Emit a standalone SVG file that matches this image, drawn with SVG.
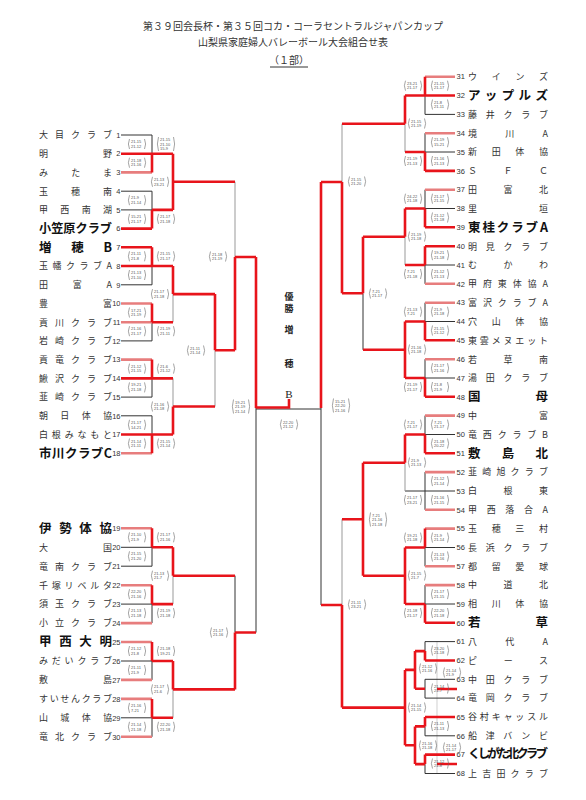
<svg xmlns="http://www.w3.org/2000/svg" xmlns:xlink="http://www.w3.org/1999/xlink" width="586" height="800" viewBox="0 0 586 800">
<style>
.k{stroke:#333;stroke-width:1;fill:none}
.g{stroke:#999;stroke-width:1;fill:none}
.t{stroke:#bbb;stroke-width:0.7;fill:none}
.r{stroke:#e8141b;stroke-width:2.6;fill:none}
.p{stroke:#e77d7d;stroke-width:2.6;fill:none}
.hd{font-family:"Noto Sans CJK JP",sans-serif;font-size:10px;fill:#333}
.nm{font-family:"Noto Sans CJK JP",sans-serif;font-size:9px;fill:#333}
.bd{font-family:"Noto Sans CJK JP",sans-serif;font-size:12.5px;font-weight:bold;fill:#111}
.no{font-family:"Liberation Sans",sans-serif;font-size:7.5px;fill:#333}
.ch{font-family:"Noto Sans CJK JP",sans-serif;font-size:9px;font-weight:bold;fill:#222;text-anchor:middle}
.sc text{font-family:"Liberation Sans",sans-serif;font-size:4px;fill:#555}
.br{stroke:#666;stroke-width:0.6;fill:none}
</style>
<defs>
<path id="b2" class="br" d="M2.5,0.5Q0.3,5.5 2.5,10.5M17.5,0.5Q19.7,5.5 17.5,10.5"/>
<path id="b3" class="br" d="M2.5,0.5Q0.3,7.5 2.5,14.5M17.5,0.5Q19.7,7.5 17.5,14.5"/>
</defs>

<g id="title">
<text class="hd" x="293" y="30" text-anchor="middle">第３９回会長杯・第３５回コカ・コーラセントラルジャパンカップ</text>
<text class="hd" x="293" y="46" text-anchor="middle">山梨県家庭婦人バレーボール大会組合せ表</text>
<text class="hd" x="289" y="64" text-anchor="middle">（１部）</text>
<path class="k" d="M270 67H308" stroke-width="0.8"/>
</g>

<g id="connectors">
<path class="t" d="M437 641V774"/>
<path class="k" d="M121 135H152M121 191.2H152M121 209.9H152M121 284.8H152M121 340.9H152M121 397.1H152M121 415.8H152M121 547.3H152M121 566.2H152M121 604.1H152M121 661H152M121 717.8H152
M152 135V153.7M152 191.2V209.9M152 266V284.8M152 322.2V340.9M152 378.4V397.1M152 415.8V434.5M152 547.3V566.2M152 604.1V623.1M152 661V679.9M152 717.8V736.8
M235 575.7V632.5M256 408V632.5M256 409H321M321 408V605
M425 114.4H455M425 152H455M425 208.5H455M425 265H455M425 321.5H455M425 378H455M425 434.5H455M425 491H455M425 547.5H455M425 604H455M425 641.6H455M425 679.3H455M425 698.1H455M425 735.8H455M425 773.5H455
M405 491H425
M425 95.5V114.4M425 133.2V152M425 189.7V208.5M425 265V283.8M425 302.7V321.5M425 359.2V378M425 415.6V434.5M425 472.1V509.8M425 547.5V566.3M425 585.1V604M425 641.6V651.1M425 679.3V698.1M425 726.4V735.8M425 764.1V773.5
M363 293.3V349.8"/>
<path class="g" d="M173 294.1V322.2M173 378.4V406.5M173 575.7V604.1M173 689.4V717.8M215 350.3V406.5M235 181.8V257M405 123.8V152M405 236.8V265M405 462.8V491M342 123.8V182M342 519.3V605"/>
<path class="p" d="M121 172.4H152M121 303.5H152M121 322.2H152M121 359.6H152M121 453.2H152M121 528.3H152M121 585.2H152M121 623.1H152M121 642H152M121 679.9H152M121 698.9H152M121 736.8H152
M425 76.7H455M425 133.2H455M425 189.7H455M425 283.8H455M425 302.7H455M425 359.2H455M425 415.6H455M425 472.1H455M425 509.8H455M425 528.6H455M425 566.3H455M425 585.1H455"/>
<path class="r" d="M121 153.7H173M121 228.6H152M121 247.3H152M121 266H173M121 378.4H173M121 434.5H173
M152 209.9H173M152 322.2H173M152 547.3H173M152 604.1H173M152 661H173M152 717.8H173
M152 153.7V172.4M152 209.9V228.6M152 247.3V266M152 303.5V322.2M152 359.6V378.4M152 434.5V453.2M152 528.3V547.3M152 585.2V604.1M152 642V661M152 698.9V717.8
M173 153.7V209.9M173 266V294.1M173 406.5V434.5M173 547.3V575.7M173 661V689.4
M173 181.8H235M173 294.1H215M173 406.5H215M215 294.1V350.3M215 350.3H235M235 257V350.3M235 257H256M256 257V408
M173 575.7H235M173 689.4H235M235 632.5V689.4M235 632.5H256
M256 407.5H289V399
M405 95.5H455M425 170.9H455M425 227.3H455M425 246.2H455M425 340.3H455M425 396.8H455M425 453.3H455M425 622.8H455M425 660.5H455M425 717H455M425 754.6H455
M405 152H425M405 208.5H425M405 265H425M405 321.5H425M405 378H425M405 434.5H425M405 547.5H425M405 604H425
M425 76.7V95.5M425 152V170.9M425 208.5V227.3M425 246.2V265M425 321.5V340.3M425 378V396.8M425 434.5V453.3M425 528.6V547.5M425 604V622.8M425 651.1V660.5M425 717V726.4M425 754.6V764.1
M405 95.5V123.8M405 208.5V236.8M405 321.5V378M405 434.5V462.8M405 547.5V604M405 669.9V745.2
M405 123.8H342M405 236.8H363M405 349.8H363M363 236.8V293.3M363 293.3H342M342 182V293.3M342 182H321M321 182V408
M405 462.8H363M405 575.8H363M363 462.8V575.8M363 519.3H342
M425 651.1H415M425 688.7H415M415 651.1V688.7M415 669.9H405M425 726.4H415M425 764.1H415M415 726.4V764.1M415 745.2H405M405 707.6H342M342 605V707.6M342 605H321
M437 689H457M437 764H457"/>
</g>

<g id="champion">
<text class="ch" x="289" y="300">優</text>
<text class="ch" x="289" y="311.5">勝</text>
<text class="ch" x="289" y="333">増</text>
<text class="ch" x="289" y="367">穂</text>
<text x="289" y="397.5" text-anchor="middle" font-family="Liberation Serif,serif" font-size="11" fill="#222">B</text>
</g>

<g id="teams-left">
<g id="t1"><text class="nm" x="39" y="138.3" textLength="73" lengthAdjust="spacing">大目クラブ</text><text class="no" x="120.5" y="137.7" text-anchor="end">1</text></g>
<g id="t2"><text class="nm" x="39" y="157" textLength="73" lengthAdjust="spacing">明野</text><text class="no" x="120.5" y="156.4" text-anchor="end">2</text></g>
<g id="t3"><text class="nm" x="39" y="175.7" textLength="73" lengthAdjust="spacing">みたま</text><text class="no" x="120.5" y="175.1" text-anchor="end">3</text></g>
<g id="t4"><text class="nm" x="39" y="194.5" textLength="73" lengthAdjust="spacing">玉穂南</text><text class="no" x="120.5" y="193.9" text-anchor="end">4</text></g>
<g id="t5"><text class="nm" x="39" y="213.2" textLength="73" lengthAdjust="spacing">甲西南湖</text><text class="no" x="120.5" y="212.6" text-anchor="end">5</text></g>
<g id="t6"><text class="bd" x="39" y="233" font-size="12" textLength="73" lengthAdjust="spacingAndGlyphs">小笠原クラブ</text><text class="no" x="120.5" y="231.3" text-anchor="end">6</text></g>
<g id="t7"><text class="bd" x="39" y="251.7" textLength="73" lengthAdjust="spacing">増穂B</text><text class="no" x="120.5" y="250" text-anchor="end">7</text></g>
<g id="t8"><text class="nm" x="39" y="269.3" textLength="73" lengthAdjust="spacing">玉幡クラブA</text><text class="no" x="120.5" y="268.7" text-anchor="end">8</text></g>
<g id="t9"><text class="nm" x="39" y="288.1" textLength="73" lengthAdjust="spacing">田富A</text><text class="no" x="120.5" y="287.5" text-anchor="end">9</text></g>
<g id="t10"><text class="nm" x="39" y="306.8" textLength="73" lengthAdjust="spacing">豊富</text><text class="no" x="120.5" y="306.2" text-anchor="end">10</text></g>
<g id="t11"><text class="nm" x="39" y="325.5" textLength="73" lengthAdjust="spacing">貢川クラブ</text><text class="no" x="120.5" y="324.9" text-anchor="end">11</text></g>
<g id="t12"><text class="nm" x="39" y="344.2" textLength="73" lengthAdjust="spacing">岩崎クラブ</text><text class="no" x="120.5" y="343.6" text-anchor="end">12</text></g>
<g id="t13"><text class="nm" x="39" y="362.9" textLength="73" lengthAdjust="spacing">貢竜クラブ</text><text class="no" x="120.5" y="362.3" text-anchor="end">13</text></g>
<g id="t14"><text class="nm" x="39" y="381.7" textLength="73" lengthAdjust="spacing">鰍沢クラブ</text><text class="no" x="120.5" y="381.1" text-anchor="end">14</text></g>
<g id="t15"><text class="nm" x="39" y="400.4" textLength="73" lengthAdjust="spacing">韮崎クラブ</text><text class="no" x="120.5" y="399.8" text-anchor="end">15</text></g>
<g id="t16"><text class="nm" x="39" y="419.1" textLength="73" lengthAdjust="spacing">朝日体協</text><text class="no" x="120.5" y="418.5" text-anchor="end">16</text></g>
<g id="t17"><text class="nm" x="39" y="437.8" textLength="73" lengthAdjust="spacing">白根みなもと</text><text class="no" x="120.5" y="437.2" text-anchor="end">17</text></g>
<g id="t18"><text class="bd" x="39" y="457.6" textLength="73" lengthAdjust="spacing">市川クラブC</text><text class="no" x="120.5" y="455.9" text-anchor="end">18</text></g>
<g id="t19"><text class="bd" x="39" y="532.7" textLength="73" lengthAdjust="spacing">伊勢体協</text><text class="no" x="120.5" y="531" text-anchor="end">19</text></g>
<g id="t20"><text class="nm" x="39" y="550.6" textLength="73" lengthAdjust="spacing">大国</text><text class="no" x="120.5" y="550" text-anchor="end">20</text></g>
<g id="t21"><text class="nm" x="39" y="569.5" textLength="73" lengthAdjust="spacing">竜南クラブ</text><text class="no" x="120.5" y="568.9" text-anchor="end">21</text></g>
<g id="t22"><text class="nm" x="39" y="588.5" textLength="73" lengthAdjust="spacing">千塚リベルタ</text><text class="no" x="120.5" y="587.9" text-anchor="end">22</text></g>
<g id="t23"><text class="nm" x="39" y="607.4" textLength="73" lengthAdjust="spacing">須玉クラブ</text><text class="no" x="120.5" y="606.8" text-anchor="end">23</text></g>
<g id="t24"><text class="nm" x="39" y="626.4" textLength="73" lengthAdjust="spacing">小立クラブ</text><text class="no" x="120.5" y="625.8" text-anchor="end">24</text></g>
<g id="t25"><text class="bd" x="39" y="646.4" textLength="73" lengthAdjust="spacing">甲西大明</text><text class="no" x="120.5" y="644.7" text-anchor="end">25</text></g>
<g id="t26"><text class="nm" x="39" y="664.3" textLength="73" lengthAdjust="spacing">みだいクラブ</text><text class="no" x="120.5" y="663.7" text-anchor="end">26</text></g>
<g id="t27"><text class="nm" x="39" y="683.2" textLength="73" lengthAdjust="spacing">敷島</text><text class="no" x="120.5" y="682.6" text-anchor="end">27</text></g>
<g id="t28"><text class="nm" x="39" y="702.2" textLength="73" lengthAdjust="spacing">すいせんクラブ</text><text class="no" x="120.5" y="701.6" text-anchor="end">28</text></g>
<g id="t29"><text class="nm" x="39" y="721.1" textLength="73" lengthAdjust="spacing">山城体協</text><text class="no" x="120.5" y="720.5" text-anchor="end">29</text></g>
<g id="t30"><text class="nm" x="39" y="740.1" textLength="73" lengthAdjust="spacing">竜北クラブ</text><text class="no" x="120.5" y="739.5" text-anchor="end">30</text></g>
</g>

<g id="teams-right">
<g id="t31"><text class="no" x="456.5" y="79.4">31</text><text class="nm" x="468" y="80" textLength="80" lengthAdjust="spacing">ウインズ</text></g>
<g id="t32"><text class="no" x="456.5" y="98.2">32</text><text class="bd" x="468" y="100.3" font-size="13" textLength="80" lengthAdjust="spacing">アップルズ</text></g>
<g id="t33"><text class="no" x="456.5" y="117.1">33</text><text class="nm" x="468" y="117.7" textLength="80" lengthAdjust="spacing">藤井クラブ</text></g>
<g id="t34"><text class="no" x="456.5" y="135.9">34</text><text class="nm" x="468" y="136.5" textLength="80" lengthAdjust="spacing">境川A</text></g>
<g id="t35"><text class="no" x="456.5" y="154.7">35</text><text class="nm" x="468" y="155.3" textLength="80" lengthAdjust="spacing">新田体協</text></g>
<g id="t36"><text class="no" x="456.5" y="173.6">36</text><text class="nm" x="468" y="174.2" textLength="80" lengthAdjust="spacing">ＳＦＣ</text></g>
<g id="t37"><text class="no" x="456.5" y="192.4">37</text><text class="nm" x="468" y="193" textLength="80" lengthAdjust="spacing">田富北</text></g>
<g id="t38"><text class="no" x="456.5" y="211.2">38</text><text class="nm" x="468" y="211.8" textLength="80" lengthAdjust="spacing">里垣</text></g>
<g id="t39"><text class="no" x="456.5" y="230">39</text><text class="bd" x="468" y="231.8" textLength="80" lengthAdjust="spacing">東桂クラブA</text></g>
<g id="t40"><text class="no" x="456.5" y="248.9">40</text><text class="nm" x="468" y="249.5" textLength="80" lengthAdjust="spacing">明見クラブ</text></g>
<g id="t41"><text class="no" x="456.5" y="267.7">41</text><text class="nm" x="468" y="268.3" textLength="80" lengthAdjust="spacing">むかわ</text></g>
<g id="t42"><text class="no" x="456.5" y="286.5">42</text><text class="nm" x="468" y="287.1" textLength="80" lengthAdjust="spacing">甲府東体協A</text></g>
<g id="t43"><text class="no" x="456.5" y="305.4">43</text><text class="nm" x="468" y="306" textLength="80" lengthAdjust="spacing">富沢クラブA</text></g>
<g id="t44"><text class="no" x="456.5" y="324.2">44</text><text class="nm" x="468" y="324.8" textLength="80" lengthAdjust="spacing">穴山体協</text></g>
<g id="t45"><text class="no" x="456.5" y="343">45</text><text class="nm" x="468" y="343.6" textLength="80" lengthAdjust="spacing">東雲メヌエット</text></g>
<g id="t46"><text class="no" x="456.5" y="361.9">46</text><text class="nm" x="468" y="362.5" textLength="80" lengthAdjust="spacing">若草南</text></g>
<g id="t47"><text class="no" x="456.5" y="380.7">47</text><text class="nm" x="468" y="381.3" textLength="80" lengthAdjust="spacing">湯田クラブ</text></g>
<g id="t48"><text class="no" x="456.5" y="399.5">48</text><text class="bd" x="468" y="401.3" textLength="80" lengthAdjust="spacing">国母</text></g>
<g id="t49"><text class="no" x="456.5" y="418.3">49</text><text class="nm" x="468" y="418.9" textLength="80" lengthAdjust="spacing">中富</text></g>
<g id="t50"><text class="no" x="456.5" y="437.2">50</text><text class="nm" x="468" y="437.8" textLength="80" lengthAdjust="spacing">竜西クラブB</text></g>
<g id="t51"><text class="no" x="456.5" y="456">51</text><text class="bd" x="468" y="457.8" textLength="80" lengthAdjust="spacing">敷島北</text></g>
<g id="t52"><text class="no" x="456.5" y="474.8">52</text><text class="nm" x="468" y="475.4" textLength="80" lengthAdjust="spacing">韮崎旭クラブ</text></g>
<g id="t53"><text class="no" x="456.5" y="493.7">53</text><text class="nm" x="468" y="494.3" textLength="80" lengthAdjust="spacing">白根東</text></g>
<g id="t54"><text class="no" x="456.5" y="512.5">54</text><text class="nm" x="468" y="513.1" textLength="80" lengthAdjust="spacing">甲西落合A</text></g>
<g id="t55"><text class="no" x="456.5" y="531.3">55</text><text class="nm" x="468" y="531.9" textLength="80" lengthAdjust="spacing">玉穂三村</text></g>
<g id="t56"><text class="no" x="456.5" y="550.2">56</text><text class="nm" x="468" y="550.8" textLength="80" lengthAdjust="spacing">長浜クラブ</text></g>
<g id="t57"><text class="no" x="456.5" y="569">57</text><text class="nm" x="468" y="569.6" textLength="80" lengthAdjust="spacing">都留愛球</text></g>
<g id="t58"><text class="no" x="456.5" y="587.8">58</text><text class="nm" x="468" y="588.4" textLength="80" lengthAdjust="spacing">中道北</text></g>
<g id="t59"><text class="no" x="456.5" y="606.7">59</text><text class="nm" x="468" y="607.3" textLength="80" lengthAdjust="spacing">相川体協</text></g>
<g id="t60"><text class="no" x="456.5" y="625.5">60</text><text class="bd" x="468" y="627.3" textLength="80" lengthAdjust="spacing">若草</text></g>
<g id="t61"><text class="no" x="456.5" y="644.3">61</text><text class="nm" x="468" y="644.9" textLength="80" lengthAdjust="spacing">八代A</text></g>
<g id="t62"><text class="no" x="456.5" y="663.2">62</text><text class="nm" x="468" y="663.8" textLength="80" lengthAdjust="spacing">ピース</text></g>
<g id="t63"><text class="no" x="456.5" y="682">63</text><text class="nm" x="468" y="682.6" textLength="80" lengthAdjust="spacing">中田クラブ</text></g>
<g id="t64"><text class="no" x="456.5" y="700.8">64</text><text class="nm" x="468" y="701.4" textLength="80" lengthAdjust="spacing">竜岡クラブ</text></g>
<g id="t65"><text class="no" x="456.5" y="719.7">65</text><text class="nm" x="468" y="720.3" textLength="80" lengthAdjust="spacing">谷村キャッスル</text></g>
<g id="t66"><text class="no" x="456.5" y="738.5">66</text><text class="nm" x="468" y="739.1" textLength="80" lengthAdjust="spacing">船津バンビ</text></g>
<g id="t67"><text class="no" x="456.5" y="757.3">67</text><text class="bd" x="468" y="758.3" font-size="9.5" textLength="80" lengthAdjust="spacing">くしがた北クラブ</text></g>
<g id="t68"><text class="no" x="456.5" y="776.2">68</text><text class="nm" x="468" y="776.8" textLength="80" lengthAdjust="spacing">上吉田クラブ</text></g>
</g>

<g id="scores" class="sc">
<g transform="translate(127,138.5)"><use href="#b2"/><text x="4" y="4.5">21-15</text><text x="4" y="9.3">21-12</text></g>
<g transform="translate(127,157.2)"><use href="#b2"/><text x="4" y="4.5">21-18</text><text x="4" y="9.3">21-16</text></g>
<g transform="translate(127,194.7)"><use href="#b2"/><text x="4" y="4.5">21-9</text><text x="4" y="9.3">21-14</text></g>
<g transform="translate(127,213.4)"><use href="#b2"/><text x="4" y="4.5">15-21</text><text x="4" y="9.3">21-17</text></g>
<g transform="translate(127,250.8)"><use href="#b2"/><text x="4" y="4.5">21-11</text><text x="4" y="9.3">21-8</text></g>
<g transform="translate(127,269.5)"><use href="#b2"/><text x="4" y="4.5">21-13</text><text x="4" y="9.3">21-10</text></g>
<g transform="translate(127,307)"><use href="#b2"/><text x="4" y="4.5">17-21</text><text x="4" y="9.3">21-19</text></g>
<g transform="translate(127,325.7)"><use href="#b2"/><text x="4" y="4.5">21-16</text><text x="4" y="9.3">21-17</text></g>
<g transform="translate(127,363.1)"><use href="#b2"/><text x="4" y="4.5">21-12</text><text x="4" y="9.3">21-15</text></g>
<g transform="translate(127,381.9)"><use href="#b2"/><text x="4" y="4.5">19-21</text><text x="4" y="9.3">21-18</text></g>
<g transform="translate(127,419.3)"><use href="#b2"/><text x="4" y="4.5">21-17</text><text x="4" y="9.3">14-21</text></g>
<g transform="translate(127,438)"><use href="#b2"/><text x="4" y="4.5">21-14</text><text x="4" y="9.3">21-11</text></g>
<g transform="translate(127,531.8)"><use href="#b2"/><text x="4" y="4.5">21-10</text><text x="4" y="9.3">21-9</text></g>
<g transform="translate(127,550.8)"><use href="#b2"/><text x="4" y="4.5">21-15</text><text x="4" y="9.3">21-20</text></g>
<g transform="translate(127,588.7)"><use href="#b2"/><text x="4" y="4.5">22-20</text><text x="4" y="9.3">21-16</text></g>
<g transform="translate(127,607.6)"><use href="#b2"/><text x="4" y="4.5">21-13</text><text x="4" y="9.3">21-18</text></g>
<g transform="translate(127,645.5)"><use href="#b2"/><text x="4" y="4.5">21-12</text><text x="4" y="9.3">21-8</text></g>
<g transform="translate(127,664.5)"><use href="#b2"/><text x="4" y="4.5">21-11</text><text x="4" y="9.3">21-9</text></g>
<g transform="translate(127,702.4)"><use href="#b2"/><text x="4" y="4.5">21-16</text><text x="4" y="9.3">7-21</text></g>
<g transform="translate(127,721.3)"><use href="#b2"/><text x="4" y="4.5">21-14</text><text x="4" y="9.3">21-18</text></g>
<g transform="translate(156,136.5)"><use href="#b3"/><text x="4" y="4.5">21-15</text><text x="4" y="9">21-10</text><text x="4" y="13.5">15-9</text></g>
<g transform="translate(156,213.4)"><use href="#b2"/><text x="4" y="4.5">21-17</text><text x="4" y="9.3">21-18</text></g>
<g transform="translate(156,250.8)"><use href="#b2"/><text x="4" y="4.5">21-15</text><text x="4" y="9.3">21-17</text></g>
<g transform="translate(156,325.7)"><use href="#b2"/><text x="4" y="4.5">21-19</text><text x="4" y="9.3">21-11</text></g>
<g transform="translate(156,363.1)"><use href="#b2"/><text x="4" y="4.5">21-6</text><text x="4" y="9.3">21-12</text></g>
<g transform="translate(156,438)"><use href="#b2"/><text x="4" y="4.5">21-15</text><text x="4" y="9.3">21-14</text></g>
<g transform="translate(156,531.8)"><use href="#b2"/><text x="4" y="4.5">21-17</text><text x="4" y="9.3">21-16</text></g>
<g transform="translate(156,607.6)"><use href="#b2"/><text x="4" y="4.5">21-19</text><text x="4" y="9.3">21-18</text></g>
<g transform="translate(156,645.5)"><use href="#b2"/><text x="4" y="4.5">21-18</text><text x="4" y="9.3">19-21</text></g>
<g transform="translate(156,721.3)"><use href="#b2"/><text x="4" y="4.5">22-20</text><text x="4" y="9.3">21-18</text></g>
<g transform="translate(150,176.3)"><use href="#b2"/><text x="4" y="4.5">21-13</text><text x="4" y="9.3">23-21</text></g>
<g transform="translate(150,288.6)"><use href="#b2"/><text x="4" y="4.5">21-17</text><text x="4" y="9.3">21-18</text></g>
<g transform="translate(150,401)"><use href="#b2"/><text x="4" y="4.5">21-16</text><text x="4" y="9.3">21-18</text></g>
<g transform="translate(150,570.2)"><use href="#b2"/><text x="4" y="4.5">21-13</text><text x="4" y="9.3">21-7</text></g>
<g transform="translate(150,683.9)"><use href="#b2"/><text x="4" y="4.5">21-17</text><text x="4" y="9.3">21-6</text></g>
<g transform="translate(186,345)"><use href="#b2"/><text x="4" y="4.5">21-11</text><text x="4" y="9.3">21-14</text></g>
<g transform="translate(208,251)"><use href="#b2"/><text x="4" y="4.5">21-18</text><text x="4" y="9.3">21-19</text></g>
<g transform="translate(231,399)"><use href="#b3"/><text x="4" y="4.5">19-21</text><text x="4" y="9">21-19</text><text x="4" y="13.5">21-14</text></g>
<g transform="translate(209,627)"><use href="#b2"/><text x="4" y="4.5">21-17</text><text x="4" y="9.3">21-16</text></g>
<g transform="translate(279,419)"><use href="#b2"/><text x="4" y="4.5">22-20</text><text x="4" y="9.3">21-12</text></g>
<g transform="translate(331,398)"><use href="#b3"/><text x="4" y="4.5">15-21</text><text x="4" y="9">22-20</text><text x="4" y="13.5">21-16</text></g>
<g transform="translate(430,80.2)"><use href="#b2"/><text x="4" y="4.5">21-15</text><text x="4" y="9.3">21-17</text></g>
<g transform="translate(430,99)"><use href="#b2"/><text x="4" y="4.5">21-8</text><text x="4" y="9.3">21-11</text></g>
<g transform="translate(430,136.7)"><use href="#b2"/><text x="4" y="4.5">21-19</text><text x="4" y="9.3">15-21</text></g>
<g transform="translate(430,155.5)"><use href="#b2"/><text x="4" y="4.5">21-16</text><text x="4" y="9.3">21-13</text></g>
<g transform="translate(430,193.2)"><use href="#b2"/><text x="4" y="4.5">21-17</text><text x="4" y="9.3">21-15</text></g>
<g transform="translate(430,212)"><use href="#b2"/><text x="4" y="4.5">21-12</text><text x="4" y="9.3">21-18</text></g>
<g transform="translate(430,249.7)"><use href="#b2"/><text x="4" y="4.5">19-21</text><text x="4" y="9.3">21-18</text></g>
<g transform="translate(430,268.5)"><use href="#b2"/><text x="4" y="4.5">21-12</text><text x="4" y="9.3">21-13</text></g>
<g transform="translate(430,306.2)"><use href="#b2"/><text x="4" y="4.5">21-9</text><text x="4" y="9.3">21-18</text></g>
<g transform="translate(430,325)"><use href="#b2"/><text x="4" y="4.5">21-15</text><text x="4" y="9.3">21-12</text></g>
<g transform="translate(430,362.7)"><use href="#b2"/><text x="4" y="4.5">21-17</text><text x="4" y="9.3">21-16</text></g>
<g transform="translate(430,381.5)"><use href="#b2"/><text x="4" y="4.5">21-8</text><text x="4" y="9.3">21-9</text></g>
<g transform="translate(430,419.1)"><use href="#b2"/><text x="4" y="4.5">7-21</text><text x="4" y="9.3">21-17</text></g>
<g transform="translate(430,438)"><use href="#b2"/><text x="4" y="4.5">21-18</text><text x="4" y="9.3">20-22</text></g>
<g transform="translate(430,475.6)"><use href="#b2"/><text x="4" y="4.5">21-12</text><text x="4" y="9.3">21-14</text></g>
<g transform="translate(430,494.5)"><use href="#b2"/><text x="4" y="4.5">21-16</text><text x="4" y="9.3">21-15</text></g>
<g transform="translate(430,532.1)"><use href="#b2"/><text x="4" y="4.5">21-9</text><text x="4" y="9.3">21-14</text></g>
<g transform="translate(430,551)"><use href="#b2"/><text x="4" y="4.5">21-13</text><text x="4" y="9.3">21-16</text></g>
<g transform="translate(430,588.6)"><use href="#b2"/><text x="4" y="4.5">21-17</text><text x="4" y="9.3">21-15</text></g>
<g transform="translate(430,607.5)"><use href="#b2"/><text x="4" y="4.5">22-20</text><text x="4" y="9.3">21-18</text></g>
<g transform="translate(430,645)"><use href="#b2"/><text x="4" y="4.5">23-20</text><text x="4" y="9.3">21-18</text></g>
<g transform="translate(430,683)"><use href="#b2"/><text x="4" y="4.5">21-14</text><text x="4" y="9.3">21-7</text></g>
<g transform="translate(430,720.5)"><use href="#b2"/><text x="4" y="4.5">21-11</text><text x="4" y="9.3">21-13</text></g>
<g transform="translate(430,758)"><use href="#b2"/><text x="4" y="4.5">21-12</text><text x="4" y="9.3">21-8</text></g>
<g transform="translate(403,80.2)"><use href="#b2"/><text x="4" y="4.5">23-21</text><text x="4" y="9.3">21-17</text></g>
<g transform="translate(403,155.5)"><use href="#b2"/><text x="4" y="4.5">21-19</text><text x="4" y="9.3">21-13</text></g>
<g transform="translate(403,193.2)"><use href="#b2"/><text x="4" y="4.5">24-22</text><text x="4" y="9.3">21-18</text></g>
<g transform="translate(403,268.5)"><use href="#b2"/><text x="4" y="4.5">7-21</text><text x="4" y="9.3">21-18</text></g>
<g transform="translate(403,306.2)"><use href="#b2"/><text x="4" y="4.5">21-13</text><text x="4" y="9.3">7-21</text></g>
<g transform="translate(403,381.5)"><use href="#b2"/><text x="4" y="4.5">21-19</text><text x="4" y="9.3">21-17</text></g>
<g transform="translate(403,419.1)"><use href="#b2"/><text x="4" y="4.5">7-21</text><text x="4" y="9.3">21-17</text></g>
<g transform="translate(403,494.5)"><use href="#b2"/><text x="4" y="4.5">21-17</text><text x="4" y="9.3">23-21</text></g>
<g transform="translate(403,532.1)"><use href="#b2"/><text x="4" y="4.5">19-21</text><text x="4" y="9.3">21-18</text></g>
<g transform="translate(403,607.5)"><use href="#b2"/><text x="4" y="4.5">21-18</text><text x="4" y="9.3">21-17</text></g>
<g transform="translate(407,118)"><use href="#b2"/><text x="4" y="4.5">21-15</text><text x="4" y="9.3">21-19</text></g>
<g transform="translate(407,231)"><use href="#b2"/><text x="4" y="4.5">21-19</text><text x="4" y="9.3">21-18</text></g>
<g transform="translate(407,344)"><use href="#b2"/><text x="4" y="4.5">21-16</text><text x="4" y="9.3">21-18</text></g>
<g transform="translate(407,457)"><use href="#b2"/><text x="4" y="4.5">21-9</text><text x="4" y="9.3">21-13</text></g>
<g transform="translate(407,570)"><use href="#b2"/><text x="4" y="4.5">21-15</text><text x="4" y="9.3">21-7</text></g>
<g transform="translate(407,702)"><use href="#b2"/><text x="4" y="4.5">21-14</text><text x="4" y="9.3">21-15</text></g>
<g transform="translate(368,288)"><use href="#b2"/><text x="4" y="4.5">7-21</text><text x="4" y="9.3">21-17</text></g>
<g transform="translate(368,512)"><use href="#b3"/><text x="4" y="4.5">7-21</text><text x="4" y="9">21-16</text><text x="4" y="13.5">21-18</text></g>
<g transform="translate(347,176)"><use href="#b2"/><text x="4" y="4.5">21-15</text><text x="4" y="9.3">21-20</text></g>
<g transform="translate(347,599)"><use href="#b2"/><text x="4" y="4.5">21-11</text><text x="4" y="9.3">23-21</text></g>
<g transform="translate(418,663)"><use href="#b2"/><text x="4" y="4.5">21-12</text><text x="4" y="9.3">21-16</text></g>
<g transform="translate(442,667)"><use href="#b2"/><text x="4" y="4.5">21-14</text><text x="4" y="9.3">21-9</text></g>
<g transform="translate(418,740)"><use href="#b2"/><text x="4" y="4.5">21-16</text><text x="4" y="9.3">21-18</text></g>
<g transform="translate(442,742)"><use href="#b2"/><text x="4" y="4.5">21-14</text><text x="4" y="9.3">21-17</text></g>
</g>
</svg>
